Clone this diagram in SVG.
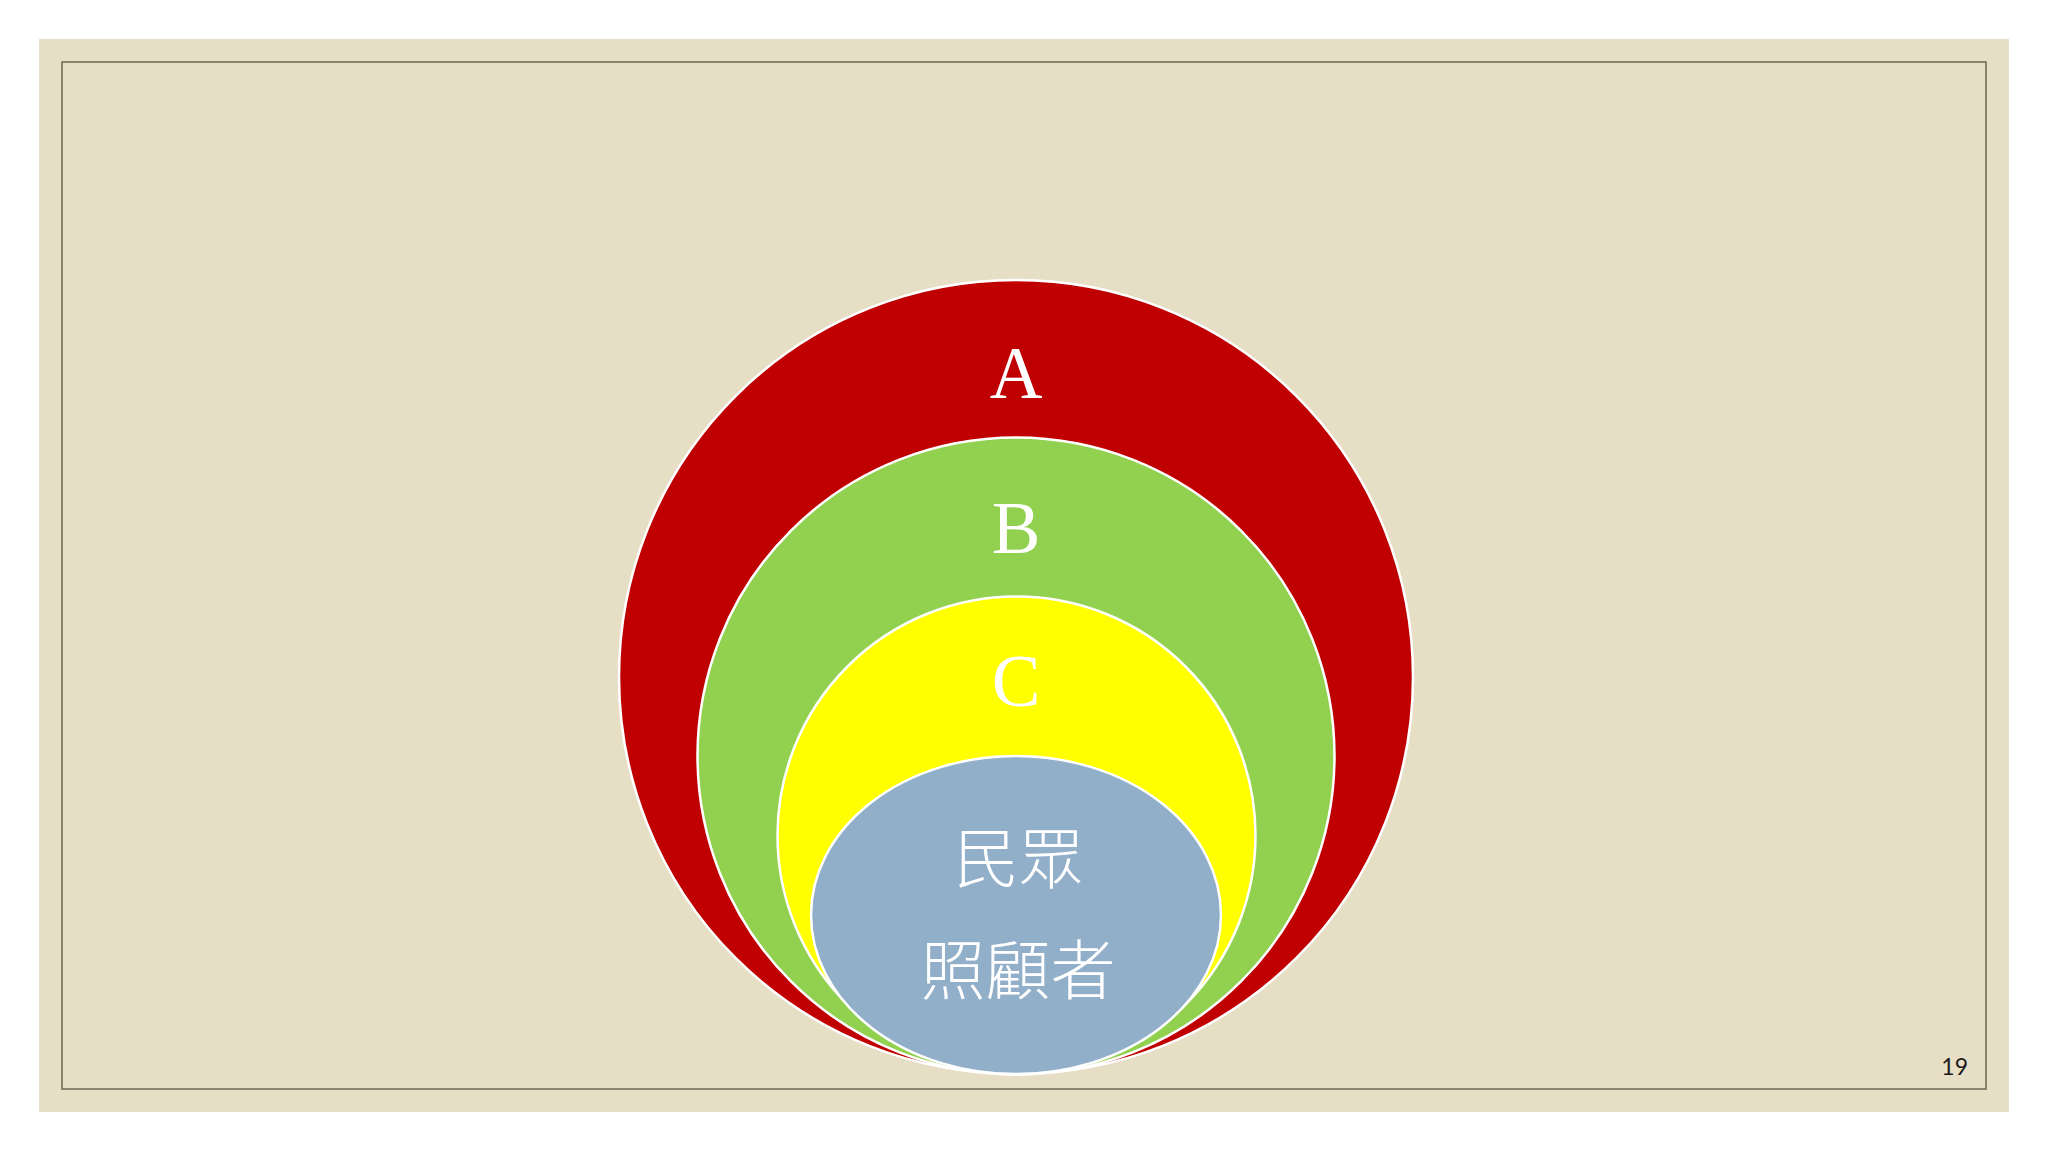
<svg xmlns="http://www.w3.org/2000/svg" width="2048" height="1152" viewBox="0 0 2048 1152">
  <style>
    .ring { stroke: #ffffff; stroke-width: 2.5; }
    .lat { font-family: "Liberation Serif", "Times New Roman", serif; font-size: 73px; fill: #ffffff; text-anchor: middle; }
    .cjk { font-family: "Liberation Serif", "Noto Sans CJK TC", "Noto Sans CJK SC", serif; font-size: 65px; font-weight: 300; fill: #ffffff; text-anchor: middle; }
    .num { font-family: "Lato", "DejaVu Sans", sans-serif; font-size: 23px; fill: #1a1a1a; text-anchor: end; }
  </style>
  <rect x="0" y="0" width="2048" height="1152" fill="#ffffff"/>
  <rect x="39" y="39" width="1970" height="1073" fill="#E7DEC6"/>
  <rect x="62" y="62" width="1924" height="1027" fill="none" stroke="#6e6454" stroke-width="1.5"/>
  <g id="nodeA">
    <circle class="ring" cx="1016" cy="677" r="397" fill="#C00000"/>
    <text class="lat" x="1016" y="398">A</text>
  </g>
  <g id="nodeB">
    <circle class="ring" cx="1016" cy="756" r="318.5" fill="#92D050"/>
    <text class="lat" x="1016" y="553">B</text>
  </g>
  <g id="nodeC">
    <circle class="ring" cx="1016.5" cy="835.5" r="239" fill="#FFFF00"/>
    <text class="lat" x="1016" y="706">C</text>
  </g>
  <g id="nodeD">
    <ellipse class="ring" cx="1016" cy="915" rx="205" ry="159" fill="#92AFCA"/>
    <text class="cjk" x="1019" y="882">民眾</text>
    <text class="cjk" x="1018" y="994">照顧者</text>
  </g>
  <g id="connectors"/>
  <text class="num" x="1968" y="1075">19</text>
</svg>
